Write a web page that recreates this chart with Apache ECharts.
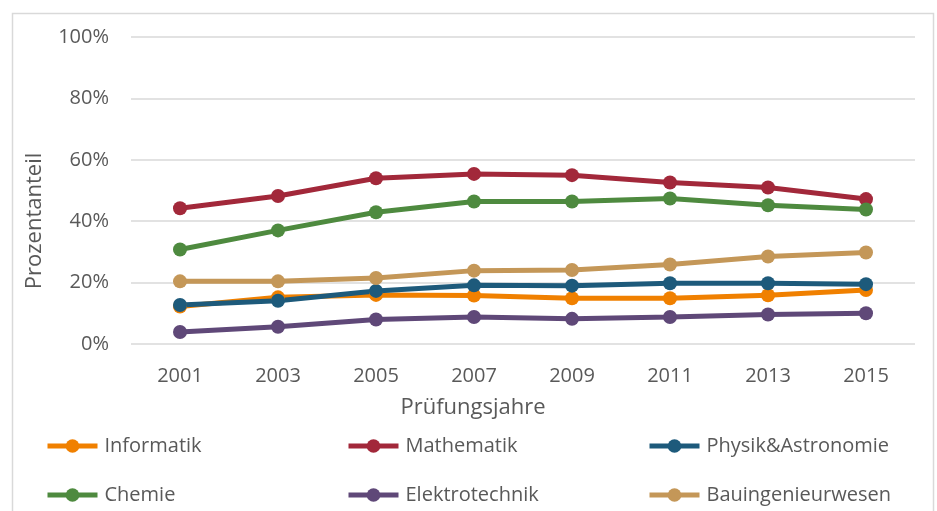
<!DOCTYPE html>
<html>
<head>
<meta charset="utf-8">
<script src="https://cdn.jsdelivr.net/npm/echarts@6/dist/echarts.min.js"></script>
<style>
  html, body { margin: 0; padding: 0; background: #fff; }
  #chart { width: 937px; height: 511px; }
</style>
</head>
<body>
<div id="chart"></div>
<script>
// Prüfungsjahre (x axis categories)
var years = ['2001', '2003', '2005', '2007', '2009', '2011', '2013', '2015'];

// Prozentanteil je Fachrichtung, in %
var informatik        = [12.2, 15.2, 16.0, 15.8, 14.9, 14.9, 15.9, 17.6];
var mathematik        = [44.2, 48.2, 54.0, 55.4, 55.0, 52.6, 51.0, 47.2];
var physikAstronomie  = [12.7, 14.1, 17.3, 19.1, 19.0, 19.8, 19.8, 19.5];
var chemie            = [30.8, 37.0, 42.9, 46.4, 46.4, 47.4, 45.2, 43.8];
var elektrotechnik    = [3.9, 5.6, 8.0, 8.8, 8.2, 8.8, 9.6, 10.0];
var bauingenieurwesen = [20.4, 20.4, 21.5, 23.9, 24.1, 25.9, 28.5, 29.8];

var seriesNames = ['Informatik', 'Mathematik', 'Physik&Astronomie', 'Chemie', 'Elektrotechnik', 'Bauingenieurwesen'];
var seriesValues = [informatik, mathematik, physikAstronomie, chemie, elektrotechnik, bauingenieurwesen];
var seriesColors = ['#F08000', '#A2283A', '#1D5A7B', '#4E8A3F', '#5F4878', '#C49758'];

var textColor = '#595959';
var fontFamily = '"Open Sans", "Noto Sans", sans-serif';

var chart = echarts.init(document.getElementById('chart'), null, { renderer: 'canvas' });

var series = seriesNames.map(function (name, i) {
  return {
    name: name,
    type: 'line',
    data: seriesValues[i],
    symbol: 'circle',
    symbolSize: 14,
    showSymbol: true,
    lineStyle: { width: 5, color: seriesColors[i] },
    itemStyle: { color: seriesColors[i] },
    emphasis: { disabled: true },
    animation: false
  };
});

// Legend laid out as a 3 x 2 grid, one legend block per entry
var legendCols = [45, 346, 647];
var legendRows = [436, 485];
var legends = seriesNames.map(function (name, i) {
  return {
    data: [name],
    left: legendCols[i % 3],
    top: legendRows[Math.floor(i / 3)],
    padding: 0,
    itemWidth: 50,
    itemHeight: 17,
    selectedMode: false,
    lineStyle: { width: 5 },
    textStyle: { color: textColor, fontSize: 20, fontFamily: fontFamily, padding: [0, 0, 0, 2] }
  };
});

chart.setOption({
  backgroundColor: '#fff',
  animation: false,
  color: seriesColors,
  grid: { left: 131, right: 22, top: 37, bottom: 167, containLabel: false },
  legend: legends,
  graphic: [
    {
      type: 'rect',
      shape: { x: 12.5, y: 13.5, width: 921, height: 520 },
      style: { fill: 'none', stroke: '#D9D9D9', lineWidth: 1.5 },
      silent: true,
      z: -1
    },
    {
      type: 'text',
      x: 35,
      y: 221,
      rotation: Math.PI / 2,
      style: {
        text: 'Prozentanteil',
        fill: textColor,
        font: '22px ' + fontFamily,
        align: 'center',
        verticalAlign: 'middle'
      }
    },
    {
      type: 'text',
      x: 473,
      y: 408,
      style: {
        text: 'Prüfungsjahre',
        fill: textColor,
        font: '22px ' + fontFamily,
        align: 'center',
        verticalAlign: 'middle'
      }
    }
  ],
  xAxis: {
    type: 'category',
    data: years,
    boundaryGap: true,
    axisLine: { show: false },
    axisTick: { show: false },
    axisLabel: { color: textColor, fontSize: 20, fontFamily: fontFamily, margin: 22 },
    splitLine: { show: false }
  },
  yAxis: {
    type: 'value',
    min: 0,
    max: 100,
    interval: 20,
    axisLine: { show: false },
    axisTick: { show: false },
    axisLabel: {
      color: textColor,
      fontSize: 20,
      fontFamily: fontFamily,
      margin: 22,
      formatter: function (v) { return v + '%'; }
    },
    splitLine: { lineStyle: { color: '#D9D9D9', width: 1.5 } }
  },
  series: series
});
</script>
</body>
</html>
